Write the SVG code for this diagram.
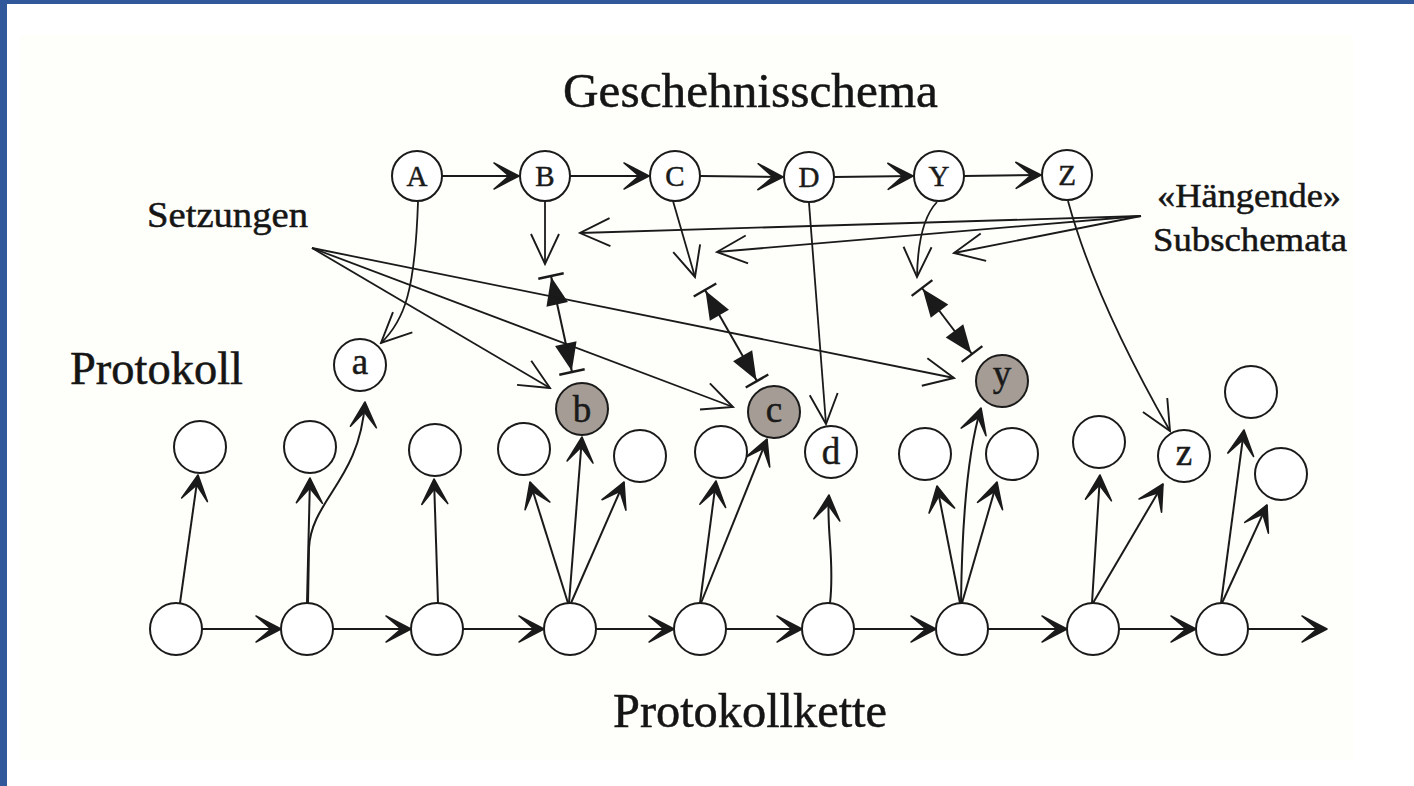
<svg xmlns="http://www.w3.org/2000/svg" width="1414" height="786" viewBox="0 0 1414 786">
<defs>
<style>
.n{fill:#fff;stroke:#1a1a1a;stroke-width:2}
.s{fill:#a59d95;stroke:#1a1a1a;stroke-width:2}
.l{fill:none;stroke:#1a1a1a;stroke-width:2}
.t{fill:none;stroke:#1a1a1a;stroke-width:1.8}
.lbl{font-family:"Liberation Serif","Times New Roman",serif;fill:#1a1a1a;stroke:#1a1a1a;stroke-width:0.5;text-anchor:middle}
.up{font-size:29px}
.lo{font-size:37px}
.cap{font-family:"Liberation Serif","Times New Roman",serif;fill:#151515;stroke:#151515;stroke-width:0.5}
</style>
<marker id="ar" viewBox="-32 -16 34 32" refX="0" refY="0" markerWidth="34" markerHeight="32" markerUnits="userSpaceOnUse" orient="auto">
<path d="M-25,-13 L0,0 L-25,13 L-10,0 Z" fill="#1a1a1a" stroke="#1a1a1a" stroke-width="1.6" stroke-linejoin="round"/>
</marker>
<marker id="arl" viewBox="-34 -17 36 34" refX="0" refY="0" markerWidth="36" markerHeight="34" markerUnits="userSpaceOnUse" orient="auto">
<path d="M-30,-14 L0,0 L-30,14" fill="none" stroke="#1a1a1a" stroke-width="1.9"/>
</marker>
<marker id="dbl" viewBox="-34 -17 36 34" refX="0" refY="0" markerWidth="36" markerHeight="34" markerUnits="userSpaceOnUse" orient="auto-start-reverse">
<path d="M-1,0 L-29,-11 L-29,11 Z" fill="#1a1a1a"/>
<path d="M0,-13 L0,13" stroke="#1a1a1a" stroke-width="2.4"/>
</marker>
</defs>
<rect x="0" y="0" width="1414" height="786" fill="#ffffff"/>
<rect x="20" y="35" width="1333" height="725" fill="#fefefa"/>
<rect x="0" y="0" width="1414" height="4" fill="#31589b"/>
<rect x="0" y="0" width="7" height="786" fill="#31589b"/>

<g id="texts">
<text class="cap" x="563" y="107" font-size="48" textLength="375" lengthAdjust="spacingAndGlyphs">Geschehnisschema</text>
<text class="cap" x="613" y="727" font-size="48" textLength="274" lengthAdjust="spacingAndGlyphs">Protokollkette</text>
<text class="cap" x="70" y="384" font-size="46" textLength="173" lengthAdjust="spacingAndGlyphs">Protokoll</text>
<text class="cap" x="147" y="227" font-size="36" textLength="161" lengthAdjust="spacingAndGlyphs">Setzungen</text>
<text class="cap" x="1157" y="207" font-size="34" textLength="184" lengthAdjust="spacingAndGlyphs">«Hängende»</text>
<text class="cap" x="1153" y="251" font-size="34" textLength="194" lengthAdjust="spacingAndGlyphs">Subschemata</text>
</g>

<g id="connectors">
<path class="l" d="M442,176 L519,176" marker-end="url(#ar)"/>
<path class="l" d="M570,176 L649,176" marker-end="url(#ar)"/>
<path class="l" d="M700,176 L783,177" marker-end="url(#ar)"/>
<path class="l" d="M834,177 L913,176" marker-end="url(#ar)"/>
<path class="l" d="M964,176 L1041,175" marker-end="url(#ar)"/>
<path class="t" d="M418,202 C415,290 405,320 381,343" marker-end="url(#arl)"/>
<path class="t" d="M545,201 L545,264" marker-end="url(#arl)"/>
<path class="t" d="M673,201 L695,277" marker-end="url(#arl)"/>
<path class="t" d="M809,203 L826,424" marker-end="url(#arl)"/>
<path class="t" d="M937,202 Q918,222 917,277" marker-end="url(#arl)"/>
<path class="t" d="M1068,201 Q1095,300 1170,431" marker-end="url(#arl)"/>
<path class="l" d="M551,276 L572,372" marker-start="url(#dbl)" marker-end="url(#dbl)"/>
<path class="l" d="M705,290 L757,381" marker-start="url(#dbl)" marker-end="url(#dbl)"/>
<path class="l" d="M922,288 L972,354" marker-start="url(#dbl)" marker-end="url(#dbl)"/>
<path class="t" d="M312,248 L550,388" marker-end="url(#arl)"/>
<path class="t" d="M312,248 L733,407" marker-end="url(#arl)"/>
<path class="t" d="M312,248 L954,378" marker-end="url(#arl)"/>
<path class="t" d="M1141,216 L580,233" marker-end="url(#arl)"/>
<path class="t" d="M1141,216 L717,252" marker-end="url(#arl)"/>
<path class="t" d="M1141,216 L954,253" marker-end="url(#arl)"/>
<path class="l" d="M202,629 L281,629" marker-end="url(#ar)"/>
<path class="l" d="M333,629 L411,629" marker-end="url(#ar)"/>
<path class="l" d="M463,629 L544,629" marker-end="url(#ar)"/>
<path class="l" d="M596,629 L674,629" marker-end="url(#ar)"/>
<path class="l" d="M726,629 L802,629" marker-end="url(#ar)"/>
<path class="l" d="M854,629 L936,629" marker-end="url(#ar)"/>
<path class="l" d="M988,629 L1067,629" marker-end="url(#ar)"/>
<path class="l" d="M1119,629 L1196,629" marker-end="url(#ar)"/>
<path class="l" d="M1248,629 L1327,629" marker-end="url(#ar)"/>
<path class="l" d="M180,603 L198,475" marker-end="url(#ar)"/>
<path class="l" d="M307,603 L310,478" marker-end="url(#ar)"/>
<path class="l" d="M308,603 L309,548 C311,500 360,480 365,402" marker-end="url(#ar)"/>
<path class="l" d="M438,603 L434,479" marker-end="url(#ar)"/>
<path class="l" d="M568,603 L530,482" marker-end="url(#ar)"/>
<path class="l" d="M569,603 L582,437" marker-end="url(#ar)"/>
<path class="l" d="M571,603 L624,482" marker-end="url(#ar)"/>
<path class="l" d="M700,603 L716,481" marker-end="url(#ar)"/>
<path class="l" d="M701,603 L767,439" marker-end="url(#ar)"/>
<path class="l" d="M830,603 C835,560 826,530 829,495" marker-end="url(#ar)"/>
<path class="l" d="M960,603 L937,486" marker-end="url(#ar)"/>
<path class="l" d="M961,603 C962,520 968,450 981,408" marker-end="url(#ar)"/>
<path class="l" d="M962,603 L997,482" marker-end="url(#ar)"/>
<path class="l" d="M1092,603 L1100,475" marker-end="url(#ar)"/>
<path class="l" d="M1093,603 L1163,484" marker-end="url(#ar)"/>
<path class="l" d="M1221,603 L1244,430" marker-end="url(#ar)"/>
<path class="l" d="M1222,603 L1267,505" marker-end="url(#ar)"/>
</g>

<g id="nA"><circle class="n" cx="417" cy="176" r="25"/><text class="lbl up" x="417" y="186">A</text></g>
<g id="nB"><circle class="n" cx="545" cy="176" r="25"/><text class="lbl up" x="545" y="186">B</text></g>
<g id="nC"><circle class="n" cx="675" cy="176" r="25"/><text class="lbl up" x="675" y="186">C</text></g>
<g id="nD"><circle class="n" cx="809" cy="177" r="25"/><text class="lbl up" x="809" y="187">D</text></g>
<g id="nY"><circle class="n" cx="939" cy="176" r="25"/><text class="lbl up" x="939" y="186">Y</text></g>
<g id="nZ"><circle class="n" cx="1067" cy="175" r="25"/><text class="lbl up" x="1067" y="185">Z</text></g>

<g id="na"><circle class="n" cx="360" cy="365" r="26"/><text class="lbl lo" x="360" y="374">a</text></g>
<g id="nb"><circle class="s" cx="582" cy="409" r="26"/><text class="lbl lo" x="582" y="422">b</text></g>
<g id="nc"><circle class="s" cx="774" cy="412" r="26"/><text class="lbl lo" x="774" y="422">c</text></g>
<g id="nd"><circle class="n" cx="831" cy="452" r="26"/><text class="lbl lo" x="831" y="464">d</text></g>
<g id="ny"><circle class="s" cx="1002" cy="381" r="26"/><text class="lbl lo" x="1002" y="386">y</text></g>
<g id="nz"><circle class="n" cx="1184" cy="456" r="26"/><text class="lbl lo" x="1184" y="465">z</text></g>

<g id="e1"><circle class="n" cx="200" cy="447" r="26"/></g>
<g id="e2"><circle class="n" cx="310" cy="447" r="26"/></g>
<g id="e3"><circle class="n" cx="435" cy="450" r="26"/></g>
<g id="e4"><circle class="n" cx="524" cy="449" r="26"/></g>
<g id="e5"><circle class="n" cx="640" cy="456" r="26"/></g>
<g id="e6"><circle class="n" cx="721" cy="452" r="26"/></g>
<g id="e7"><circle class="n" cx="925" cy="454" r="26"/></g>
<g id="e8"><circle class="n" cx="1012" cy="454" r="26"/></g>
<g id="e9"><circle class="n" cx="1099" cy="442" r="26"/></g>
<g id="e10"><circle class="n" cx="1251" cy="392" r="26"/></g>
<g id="e11"><circle class="n" cx="1281" cy="474" r="26"/></g>

<g id="p1"><circle class="n" cx="176" cy="629" r="26"/></g>
<g id="p2"><circle class="n" cx="307" cy="629" r="26"/></g>
<g id="p3"><circle class="n" cx="437" cy="629" r="26"/></g>
<g id="p4"><circle class="n" cx="570" cy="629" r="26"/></g>
<g id="p5"><circle class="n" cx="700" cy="629" r="26"/></g>
<g id="p6"><circle class="n" cx="828" cy="629" r="26"/></g>
<g id="p7"><circle class="n" cx="962" cy="629" r="26"/></g>
<g id="p8"><circle class="n" cx="1093" cy="629" r="26"/></g>
<g id="p9"><circle class="n" cx="1222" cy="629" r="26"/></g>
</svg>
